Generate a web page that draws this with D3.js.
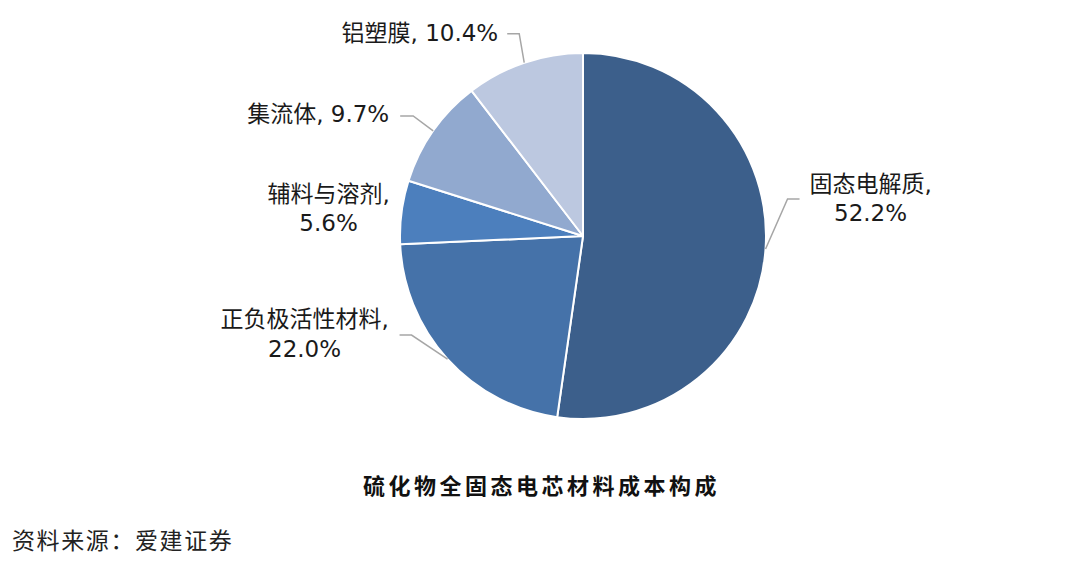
<!DOCTYPE html>
<html>
<head>
<meta charset="utf-8">
<script src="https://cdn.jsdelivr.net/npm/d3@7"></script>
<style>
  body { margin: 0; background: #fff; }
</style>
</head>
<body>
<script>
// slice data, clockwise from 12 o'clock
var categories = ["固态电解质", "正负极活性材料", "辅料与溶剂", "集流体", "铝塑膜"];
var shares = [52.2, 22.0, 5.6, 9.7, 10.4];
var shareLabels = ["52.2%", "22.0%", "5.6%", "9.7%", "10.4%"];
var chartTitle = "硫化物全固态电芯材料成本构成";
var sourceNote = "资料来源：爱建证券";

// Width and height
var w = 1080;
var h = 566;
var cx = 583, cy = 236, radius = 183;

var colorScale = d3.scaleOrdinal()
    .domain(categories)
    .range(["#3c5f8b", "#4572a9", "#4c7fbd", "#91a9cf", "#bcc8e0"]);

// label placement per slice: leader elbow offset from the arc edge,
// horizontal stub, text anchor and line baselines (relative to edge point)
var labelLayout = [
    { elbow: [22, -50], stub: 12, anchor: "middle", tx: 105, lines: [-57, -28], twoLines: true },
    { elbow: [-36, -24], stub: -12, anchor: "middle", tx: -143, lines: [-32, -2], twoLines: true },
    { elbow: null, stub: 0, anchor: "middle", tx: -73, lines: [-10, 19], twoLines: true },
    { elbow: [-20, -15], stub: -13, anchor: "end", tx: -44, lines: [-9], twoLines: false },
    { elbow: [-5, -29], stub: -12, anchor: "end", tx: -26, lines: [-22], twoLines: false }
];

var svg = d3.select("body")
    .append("svg")
    .attr("width", w)
    .attr("height", h);

var pie = d3.pie()
    .value(function (d) { return d; })
    .sort(null);

var arc = d3.arc()
    .innerRadius(0)
    .outerRadius(radius);

var arcs = pie(shares);

var g = svg.append("g")
    .attr("transform", "translate(" + cx + "," + cy + ")");

g.selectAll("path.slice")
    .data(arcs)
    .enter()
    .append("path")
    .attr("class", "slice")
    .attr("d", arc)
    .attr("fill", function (d, i) { return colorScale(categories[i]); })
    .attr("stroke", "#ffffff")
    .attr("stroke-width", 2)
    .attr("stroke-linejoin", "round");

// point on the rim at the slice's middle angle
function edgePoint(d) {
    var a = (d.startAngle + d.endAngle) / 2;
    return [radius * Math.sin(a), -radius * Math.cos(a)];
}

// leader lines
g.selectAll("polyline.leader")
    .data(arcs.filter(function (d, i) { return labelLayout[i].elbow; }))
    .enter()
    .append("polyline")
    .attr("class", "leader")
    .attr("fill", "none")
    .attr("stroke", "#a6a6a6")
    .attr("stroke-width", 1.5)
    .attr("points", function (d) {
        var L = labelLayout[d.index];
        var p = edgePoint(d);
        var e = [p[0] + L.elbow[0], p[1] + L.elbow[1]];
        var s = [e[0] + L.stub, e[1]];
        return [p, e, s].map(function (q) { return q.join(","); }).join(" ");
    });

// data labels
var labels = g.selectAll("text.label")
    .data(arcs)
    .enter()
    .append("text")
    .attr("class", "label")
    .attr("font-family", "'DejaVu Sans', 'Noto Sans CJK SC', sans-serif")
    .attr("font-size", 23)
    .attr("fill", "#1a1a1a")
    .attr("text-anchor", function (d) { return labelLayout[d.index].anchor; });

labels.each(function (d) {
    var L = labelLayout[d.index];
    var p = edgePoint(d);
    var t = d3.select(this);
    if (L.twoLines) {
        t.append("tspan")
            .attr("x", p[0] + L.tx)
            .attr("y", p[1] + L.lines[0])
            .text(categories[d.index] + ",");
        t.append("tspan")
            .attr("x", p[0] + L.tx)
            .attr("y", p[1] + L.lines[1])
            .text(shareLabels[d.index]);
    } else {
        t.append("tspan")
            .attr("x", p[0] + L.tx)
            .attr("y", p[1] + L.lines[0])
            .text(categories[d.index] + ", " + shareLabels[d.index]);
    }
});

// title under the pie
svg.append("text")
    .attr("x", 363)
    .attr("y", 494)
    .attr("font-family", "'Noto Sans CJK SC', sans-serif")
    .attr("font-size", 22)
    .attr("font-weight", "bold")
    .attr("letter-spacing", "3.5px")
    .attr("fill", "#111")
    .text(chartTitle);

// source note
svg.append("text")
    .attr("x", 12)
    .attr("y", 549)
    .attr("font-family", "'Noto Sans CJK SC', sans-serif")
    .attr("font-size", 23)
    .attr("letter-spacing", "1.6px")
    .attr("fill", "#222")
    .text(sourceNote);
</script>
</body>
</html>
